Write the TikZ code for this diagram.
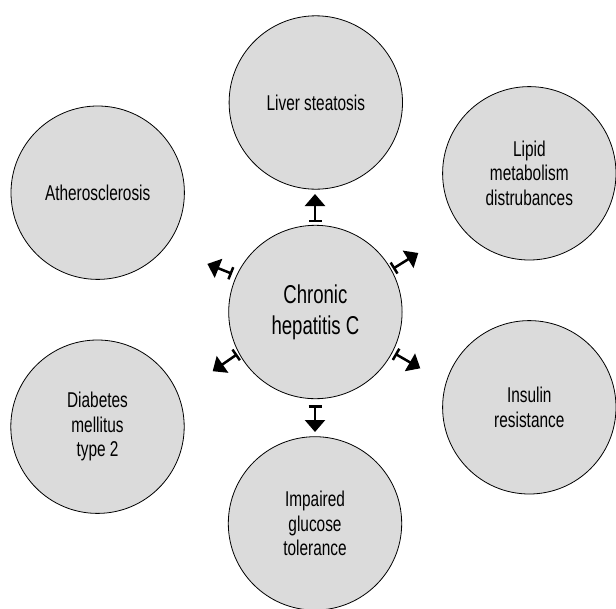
\documentclass[tikz,border=0pt]{standalone}
\usepackage{fontspec}
\setmainfont{Liberation Sans}[FakeStretch=0.72]
\usetikzlibrary{arrows.meta,calc}
\begin{document}
\begin{tikzpicture}[x=1pt,y=-1pt,
  disease/.style={circle,draw=black,line width=0.8pt,fill=black!14,minimum size=173.4pt,inner sep=0pt,align=center,
    font=\fontsize{21.4}{24.3}\selectfont},
  hub/.style={disease,font=\fontsize{25.8}{31}\selectfont},
  effect/.style={line width=2.5pt,{Bar[width=13pt,line width=2.5pt]}-{Triangle[width=20pt,length=12pt]}}]
\useasboundingbox (0,0) rectangle (616,608);
\node[hub] (C) at (315.4,312) {Chronic\\hepatitis C};
\node[disease] (LS) at (315.8,102.5) {Liver steatosis};
\node[disease] (LM) at (529.3,173.3) {Lipid\\metabolism\\distrubances};
\node[disease] (AT) at (97.7,192.7) {Atherosclerosis};
\node[disease] (DM) at (97.5,426.7) {Diabetes\\mellitus\\type 2};
\node[disease] (IR) at (529.3,407.3) {Insulin\\resistance};
\node[disease] (IG) at (315,523.4) {Impaired\\glucose\\tolerance};
% connector ends, relative to the hub
\coordinate (upS) at ($(C)+(-0.4,-90)$);
\coordinate (upE) at ($(C)+(-0.4,-118)$);
\coordinate (dnS) at ($(C)+(-0.4,93)$);
\coordinate (dnE) at ($(C)+(-0.4,120)$);
\coordinate (ulS) at ($(C)+(-83.4,-38.3)$);
\coordinate (ulE) at ($(C)+(-108,-48.1)$);
\coordinate (urS) at ($(C)+(77.6,-43.3)$);
\coordinate (urE) at ($(C)+(102.9,-59)$);
\coordinate (lrS) at ($(C)+(79.6,41.7)$);
\coordinate (lrE) at ($(C)+(104.9,56.3)$);
\coordinate (llS) at ($(C)+(-78.2,42.2)$);
\coordinate (llE) at ($(C)+(-102.7,59.2)$);
\draw[effect] (upS) -- (upE);
\draw[effect] (dnS) -- (dnE);
\draw[effect] (ulS) -- (ulE);
\draw[effect] (urS) -- (urE);
\draw[effect] (lrS) -- (lrE);
\draw[effect] (llS) -- (llE);
\end{tikzpicture}
\end{document}
